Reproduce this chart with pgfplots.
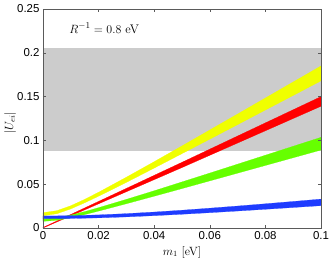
\documentclass[border=0pt]{standalone}
\usepackage{fontspec}
\setsansfont{Liberation Sans}
\usepackage{pgfplots}
\pgfplotsset{compat=1.18}
\definecolor{cyel}{RGB}{240,255,0}
\definecolor{cred}{RGB}{255,0,0}
\definecolor{cgrn}{RGB}{102,255,0}
\definecolor{cblu}{RGB}{30,60,255}
\definecolor{cgry}{RGB}{204,204,204}
\definecolor{cframe}{RGB}{90,90,90}
\begin{document}
\begin{tikzpicture}
\begin{axis}[
  scale only axis,
  width=278bp, height=219bp,
  xmin=0, xmax=0.1, ymin=0, ymax=0.25,
  xtick={0,0.02,0.04,0.06,0.08,0.1},
  ytick={0,0.05,0.1,0.15,0.2,0.25},
  xticklabels={0,0.02,0.04,0.06,0.08,0.1},
  yticklabels={0,0.05,0.1,0.15,0.2,0.25},
  scaled ticks=false,
  tick align=inside,
  major tick length=3bp,
  axis line style={cframe, line width=0.6pt},
  tick style={cframe, line width=0.4pt},
  ticklabel style={font=\sffamily\fontsize{11.5}{12}\selectfont},
  xlabel={$m_1$ [eV]},
  ylabel={$|U_{ei}|$},
  label style={font=\fontsize{12}{13}\selectfont},
  xlabel style={at={(axis description cs:0.5,-0.110)}, anchor=center},
  ylabel style={at={(axis description cs:-0.118,0.48)}, anchor=center, inner sep=0pt},
  axis on top,
]
\addplot[fill=cgry, draw=none] coordinates {(0,0.088) (0.1,0.088) (0.1,0.206) (0,0.206)} -- cycle;
% yellow band
\addplot[fill=cyel, draw=cyel, line width=0.2pt] coordinates {
(0,0.0140)(0.005,0.0163)(0.01,0.0218)(0.015,0.0288)(0.02,0.0363)(0.03,0.0521)(0.04,0.0684)(0.05,0.0849)(0.06,0.1014)(0.07,0.1180)(0.08,0.1347)(0.09,0.1513)(0.1,0.1680)
(0.1,0.1850)(0.09,0.1667)(0.08,0.1484)(0.07,0.1301)(0.06,0.1119)(0.05,0.0937)(0.04,0.0757)(0.03,0.0580)(0.02,0.0408)(0.015,0.0327)(0.01,0.0254)(0.005,0.0198)(0,0.0175)
} -- cycle;
% red band
\addplot[fill=cred, draw=cred, line width=0.2pt] coordinates {
(0,0)(0.05,0.0690)(0.1,0.139)(0.1,0.150)(0.05,0.0750)(0,0.0006)
} -- cycle;
% green band
\addplot[fill=cgrn, draw=cgrn, line width=0.2pt] coordinates {
(0,0.0076)(0.005,0.0088)(0.01,0.0117)(0.015,0.0153)(0.02,0.0193)(0.03,0.0277)(0.04,0.0363)(0.05,0.0450)(0.06,0.0538)(0.07,0.0626)(0.08,0.0714)(0.09,0.0802)(0.1,0.0890)
(0.1,0.1035)(0.09,0.0933)(0.08,0.0831)(0.07,0.0729)(0.06,0.0627)(0.05,0.0526)(0.04,0.0425)(0.03,0.0327)(0.02,0.0232)(0.015,0.0187)(0.01,0.0148)(0.005,0.0118)(0,0.0106)
} -- cycle;
% blue band
\addplot[fill=cblu, draw=cblu, line width=0.2pt] coordinates {
(0,0.0106)(0.01,0.01085)(0.02,0.01157)(0.03,0.01268)(0.04,0.01409)(0.05,0.0157)(0.06,0.01749)(0.07,0.01939)(0.08,0.02137)(0.09,0.02341)(0.1,0.0255)
(0.1,0.0330)(0.09,0.03028)(0.08,0.02764)(0.07,0.02507)(0.06,0.02262)(0.05,0.0203)(0.04,0.01821)(0.03,0.01639)(0.02,0.01496)(0.01,0.01402)(0,0.0137)
} -- cycle;
\node[anchor=center, font=\fontsize{12.5}{13}\selectfont] at (axis cs:0.022,0.228) {$R^{-1}=0.8$ eV};
\coordinate (sw) at (rel axis cs:0,0);
\coordinate (ne) at (rel axis cs:1,1);
\end{axis}
\pgfresetboundingbox
\path (sw) +(-43bp,-30bp) (ne) +(11bp,9bp);
\end{tikzpicture}
\end{document}
